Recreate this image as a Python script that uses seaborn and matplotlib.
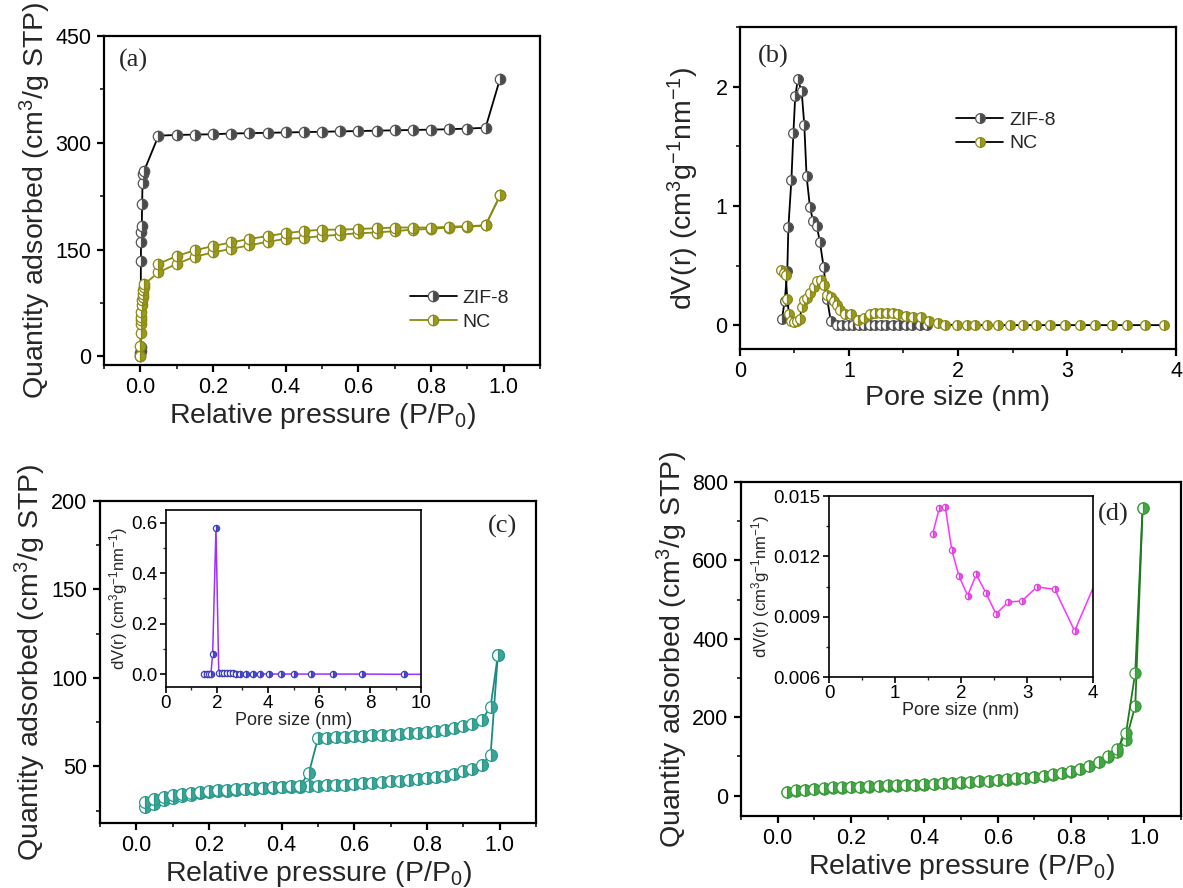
import numpy as np
import pandas as pd
import seaborn as sns
import matplotlib
matplotlib.use("Agg")
import matplotlib.pyplot as plt
from matplotlib.ticker import MultipleLocator

sns.set_style("ticks")
plt.rcParams['font.family'] = ['Liberation Sans', 'DejaVu Sans']
plt.rcParams['mathtext.default'] = 'regular'

# ---- (a) N2 isotherms ZIF-8 / NC ----
zif_p = [0.0001, 0.0002, 0.0005, 0.001, 0.0015, 0.002, 0.003, 0.004, 0.005, 0.006, 0.008, 0.01,
         0.05, 0.1, 0.15, 0.2, 0.25, 0.3, 0.35, 0.4, 0.45, 0.5, 0.55, 0.6, 0.65, 0.7, 0.75,
         0.8, 0.85, 0.9, 0.95, 0.99]
zif_q = [0, 5, 8, 13, 134, 161, 175, 183, 214, 244, 256, 260,
         310, 311, 311.5, 312, 313, 313.5, 314, 314.5, 315, 315.5, 316, 316.5, 317, 317.5, 318,
         318.5, 319, 320, 321, 390]
nc_ads_p = [0.0001, 0.0002, 0.0005, 0.001, 0.0015, 0.002, 0.003, 0.004, 0.005, 0.006, 0.007,
            0.008, 0.009, 0.01, 0.05, 0.1, 0.15, 0.2, 0.25, 0.3, 0.35, 0.4, 0.45, 0.5, 0.55,
            0.6, 0.65, 0.7, 0.75, 0.8, 0.85, 0.9, 0.95, 0.99]
nc_ads_q = [0, 15, 33, 46, 51, 55, 62, 72, 79, 83, 88, 93, 98, 101, 118, 130, 140, 146, 151,
            156, 161, 165, 166.5, 169, 171, 173, 174, 176, 178, 179, 181, 182, 184, 226]
nc_des_p = [0.99, 0.95, 0.9, 0.85, 0.8, 0.75, 0.7, 0.65, 0.6, 0.55, 0.5, 0.45, 0.4, 0.35, 0.3,
            0.25, 0.2, 0.15, 0.1, 0.05]
nc_des_q = [226, 184, 183, 182, 181, 181, 181, 180, 179, 178, 178, 176, 173, 169, 165, 160,
            155, 149, 141, 130]

# ---- (b) pore size distribution ----
zif_d = [0.385, 0.41, 0.434, 0.444, 0.472, 0.49, 0.507, 0.531, 0.566, 0.59, 0.611, 0.642,
         0.67, 0.705, 0.733, 0.767, 0.80, 0.833, 0.89, 0.94, 0.99, 1.04, 1.09, 1.14, 1.19,
         1.24, 1.29, 1.34, 1.40, 1.46, 1.52, 1.58, 1.65, 1.72]
zif_dv = [0.053, 0.2, 0.45, 0.82, 1.22, 1.61, 1.92, 2.06, 1.96, 1.68, 1.25, 0.99, 0.875, 0.83,
          0.70, 0.49, 0.22, 0.033, 0, 0, 0, 0, 0, 0, 0, 0, 0, 0, 0, 0, 0, 0, 0, 0]
nc_d = [0.375, 0.40, 0.42, 0.434, 0.45, 0.469, 0.497, 0.524, 0.549, 0.566, 0.59, 0.618, 0.646,
        0.677, 0.705, 0.74, 0.774, 0.80, 0.833, 0.86, 0.889, 0.92, 0.965, 1.017, 1.087, 1.14,
        1.19, 1.24, 1.295, 1.35, 1.40, 1.45, 1.52, 1.59, 1.66, 1.73, 1.82, 1.885, 1.99, 2.08,
        2.16, 2.27, 2.37, 2.48, 2.60, 2.72, 2.84, 2.98, 3.12, 3.26, 3.41, 3.55, 3.72, 3.89]
nc_dv = [0.46, 0.44, 0.42, 0.22, 0.09, 0.033, 0.025, 0.033, 0.053, 0.15, 0.21, 0.23, 0.27,
         0.32, 0.37, 0.38, 0.34, 0.25, 0.24, 0.20, 0.17, 0.13, 0.09, 0.09, 0.04, 0.06, 0.09,
         0.10, 0.10, 0.10, 0.10, 0.09, 0.075, 0.07, 0.07, 0.033, 0.02, 0.005, 0, 0, 0, 0, 0,
         0, 0, 0, 0, 0, 0, 0, 0, 0, 0, 0]

# ---- (c) and (d) isotherms ----
p_grid = [0.025, 0.05, 0.075, 0.1, 0.125, 0.15, 0.175, 0.2, 0.225, 0.25, 0.275, 0.3, 0.325,
          0.35, 0.375, 0.4, 0.425, 0.45, 0.475, 0.5, 0.525, 0.55, 0.575, 0.6, 0.625, 0.65,
          0.675, 0.7, 0.725, 0.75, 0.775, 0.8, 0.825, 0.85, 0.875, 0.9, 0.925, 0.95, 0.975, 0.995]
c_ads = [27, 29, 31, 32, 33.5, 34, 35, 35.6, 36, 36.3, 36.5, 37, 37.3, 37.5, 37.8, 38.2, 38.4,
         38.6, 38.8, 39, 39.2, 39.5, 39.7, 40, 40.4, 40.8, 41.2, 41.6, 42, 42.5, 43, 43.4, 44,
         44.8, 45.7, 47.2, 48.5, 51, 56.5, 113]
c_des = [30, 31.5, 32.8, 33.8, 34.6, 35.2, 35.7, 36.1, 36.4, 36.7, 37, 37.3, 37.6, 37.8, 38.1,
         38.4, 38.7, 38.9, 46.3, 66, 66.2, 66.5, 66.7, 66.9, 67.4, 67.6, 67.8, 68, 68.3, 68.7,
         69, 69.7, 70, 70.6, 71.5, 73, 74, 76, 83.7, 113]
d_ads = [8.5, 13, 14.5, 16, 18, 20, 20.5, 21, 22, 23, 24, 25, 25.7, 26.5, 27.2, 28, 29.5, 31,
         32, 33, 34.5, 36, 37.5, 39, 41, 43, 44.5, 47, 49.5, 53, 57, 61.5, 68, 75, 85.5, 98,
         111, 143, 229, 733]
d_des = [10, 14, 15.5, 17, 19, 21, 21.5, 22, 23, 24, 25, 26, 26.7, 27.5, 28.2, 29, 30.5, 32,
         33, 34, 35.5, 37, 38.5, 40, 42, 44, 45.5, 48, 50.5, 54, 58, 62.5, 69, 76, 87, 100,
         118, 161, 314, 733]

# ---- insets ----
ci_d = [1.5, 1.6, 1.67, 1.76, 1.83, 1.96, 2.07, 2.18, 2.29, 2.39, 2.51, 2.63, 2.76, 2.89, 3.14,
        3.4, 3.69, 4.05, 4.51, 5.03, 5.69, 6.55, 7.69, 9.35, 11.5]
ci_dv = [0, 0, 0, 0, 0.08, 0.578, 0.005, 0.005, 0.005, 0.004, 0.004, 0.004, 0.003, 0.003, 0.002,
         0.002, 0.002, 0.001, 0.001, 0.001, 0.001, 0.001, 0.001, 0.0, 0.0]
di_d = [1.57, 1.67, 1.76, 1.86, 1.97, 2.10, 2.23, 2.38, 2.53, 2.71, 2.92, 3.15, 3.42, 3.72, 4.1]
di_dv = [0.01313, 0.01439, 0.01447, 0.0123, 0.0110, 0.01005, 0.0111, 0.01016, 0.00913,
         0.00973, 0.00978, 0.01048, 0.01036, 0.00829, 0.0112]

fig = plt.figure(figsize=(11.83, 8.88), dpi=100)
ax_a = fig.add_axes([0.0879, 0.589, 0.3686, 0.3705])
ax_b = fig.add_axes([0.6255, 0.607, 0.3686, 0.3626])
ax_c = fig.add_axes([0.0845, 0.0732, 0.3686, 0.3626])
ax_d = fig.add_axes([0.6264, 0.0811, 0.372, 0.376])
ax_ci = fig.add_axes([0.1403, 0.2264, 0.2156, 0.1993])
ax_di = fig.add_axes([0.7008, 0.2376, 0.2232, 0.2038])

big_lab = 20.5


def curve(ax, x, y, line, face, edge, ms, lw=1.3, label=None):
    sns.lineplot(x=x, y=y, ax=ax, sort=False, estimator=None, color=line, lw=lw,
                 marker='o', markersize=ms, fillstyle='right', markerfacecolor=face,
                 markerfacecoloralt='white', markeredgecolor=edge, markeredgewidth=0.9,
                 label=label, legend=label is not None)


def style(ax, big=True):
    lw = 1.6 if big else 1.2
    for s in ax.spines.values():
        s.set_linewidth(lw)
        s.set_color('black')
    ax.tick_params(which='major', direction='out', length=5 if big else 4, width=lw,
                   labelsize=15.5 if big else 13.5, pad=4 if big else 2, colors='black')
    ax.tick_params(which='minor', direction='out', length=3 if big else 2.5, width=lw * 0.8)


zif_c, nc_c = '#4a4a4a', '#9a9a1e'
curve(ax_a, zif_p, zif_q, 'black', zif_c, '#555555', 7.5, label='ZIF-8')
curve(ax_a, nc_ads_p, nc_ads_q, '#8a8a14', nc_c, '#8a8a14', 7.5, label='NC')
curve(ax_a, nc_des_p, nc_des_q, '#8a8a14', nc_c, '#8a8a14', 7.5)
ax_a.set_xlim(-0.1, 1.1)
ax_a.set_ylim(-12, 450)
ax_a.xaxis.set_major_locator(MultipleLocator(0.2))
ax_a.xaxis.set_minor_locator(MultipleLocator(0.1))
ax_a.yaxis.set_major_locator(MultipleLocator(150))
ax_a.yaxis.set_minor_locator(MultipleLocator(75))
ax_a.xaxis.set_major_formatter(lambda v, p: f'{v:.1f}')
ax_a.set_xlabel('Relative pressure (P/P$_0$)', fontsize=big_lab, labelpad=2)
ax_a.set_ylabel('Quantity adsorbed (cm$^3$/g STP)', fontsize=big_lab, labelpad=2)
ax_a.legend(loc='center', bbox_to_anchor=(0.815, 0.167), frameon=False, fontsize=14,
            handlelength=2.4, handletextpad=0.3, labelspacing=0.3)
ax_a.text(0.035, 0.927, '(a)', transform=ax_a.transAxes, va='center', ha='left',
          family='Liberation Serif', fontsize=19)
style(ax_a)

curve(ax_b, zif_d, zif_dv, 'black', zif_c, '#555555', 7, label='ZIF-8')
curve(ax_b, nc_d, nc_dv, 'black', nc_c, '#8a8a14', 7, label='NC')
ax_b.set_xlim(0, 4)
ax_b.set_ylim(-0.2, 2.5)
ax_b.xaxis.set_major_locator(MultipleLocator(1))
ax_b.xaxis.set_minor_locator(MultipleLocator(0.5))
ax_b.yaxis.set_major_locator(MultipleLocator(1))
ax_b.yaxis.set_minor_locator(MultipleLocator(0.5))
ax_b.set_xlabel('Pore size (nm)', fontsize=big_lab, labelpad=2)
ax_b.set_ylabel('dV(r) (cm$^3$g$^{-1}$nm$^{-1}$)', fontsize=big_lab, labelpad=10)
ax_b.legend(loc='center', bbox_to_anchor=(0.61, 0.674), frameon=False, fontsize=14,
            handlelength=2.4, handletextpad=0.3, labelspacing=0.3)
ax_b.text(0.04, 0.907, '(b)', transform=ax_b.transAxes, va='center', ha='left',
          family='Liberation Serif', fontsize=19)
style(ax_b)

teal = '#3aa597'
curve(ax_c, p_grid, c_ads, '#1c8a80', teal, '#2a9a8c', 8.5)
curve(ax_c, p_grid[::-1], c_des[::-1], '#1c8a80', teal, '#2a9a8c', 8.5)
ax_c.set_xlim(-0.1, 1.1)
ax_c.set_ylim(18, 200)
ax_c.xaxis.set_major_locator(MultipleLocator(0.2))
ax_c.xaxis.set_minor_locator(MultipleLocator(0.1))
ax_c.yaxis.set_major_locator(MultipleLocator(50))
ax_c.yaxis.set_minor_locator(MultipleLocator(25))
ax_c.xaxis.set_major_formatter(lambda v, p: f'{v:.1f}')
ax_c.set_xlabel('Relative pressure (P/P$_0$)', fontsize=big_lab, labelpad=2)
ax_c.set_ylabel('Quantity adsorbed (cm$^3$/g STP)', fontsize=big_lab, labelpad=2)
ax_c.text(0.89, 0.92, '(c)', transform=ax_c.transAxes, va='center', ha='left',
          family='Liberation Serif', fontsize=19)
style(ax_c)

curve(ax_ci, ci_d, ci_dv, '#9b30ff', '#4b4bd0', '#4040c0', 4.5, lw=1.1)
ax_ci.set_xlim(0, 10)
ax_ci.set_ylim(-0.05, 0.65)
ax_ci.xaxis.set_major_locator(MultipleLocator(2))
ax_ci.xaxis.set_minor_locator(MultipleLocator(1))
ax_ci.yaxis.set_major_locator(MultipleLocator(0.2))
ax_ci.yaxis.set_minor_locator(MultipleLocator(0.1))
ax_ci.yaxis.set_major_formatter(lambda v, p: f'{v:.1f}')
ax_ci.set_xlabel('Pore size (nm)', fontsize=13, labelpad=0)
ax_ci.set_ylabel('dV(r) (cm$^3$g$^{-1}$nm$^{-1}$)', fontsize=12, labelpad=1)
style(ax_ci, big=False)

green = '#43a843'
curve(ax_d, p_grid, d_ads, '#1e7a1e', green, '#3a9a3a', 8)
curve(ax_d, p_grid[::-1], d_des[::-1], '#1e7a1e', green, '#3a9a3a', 8)
ax_d.set_xlim(-0.1, 1.1)
ax_d.set_ylim(-52, 800)
ax_d.xaxis.set_major_locator(MultipleLocator(0.2))
ax_d.xaxis.set_minor_locator(MultipleLocator(0.1))
ax_d.yaxis.set_major_locator(MultipleLocator(200))
ax_d.yaxis.set_minor_locator(MultipleLocator(100))
ax_d.xaxis.set_major_formatter(lambda v, p: f'{v:.1f}')
ax_d.set_xlabel('Relative pressure (P/P$_0$)', fontsize=big_lab, labelpad=2)
ax_d.set_ylabel('Quantity adsorbed (cm$^3$/g STP)', fontsize=big_lab, labelpad=2)
ax_d.text(0.81, 0.904, '(d)', transform=ax_d.transAxes, va='center', ha='left',
          family='Liberation Serif', fontsize=19)
style(ax_d)

curve(ax_di, di_d, di_dv, '#ff33ff', '#ee55ee', '#dd44dd', 4.5, lw=1.1)
ax_di.set_xlim(0, 4)
ax_di.set_ylim(0.006, 0.015)
ax_di.xaxis.set_major_locator(MultipleLocator(1))
ax_di.xaxis.set_minor_locator(MultipleLocator(0.5))
ax_di.yaxis.set_major_locator(MultipleLocator(0.003))
ax_di.yaxis.set_minor_locator(MultipleLocator(0.0015))
ax_di.yaxis.set_major_formatter(lambda v, p: f'{v:.3f}')
ax_di.set_xlabel('Pore size (nm)', fontsize=13, labelpad=0)
ax_di.set_ylabel('dV(r) (cm$^3$g$^{-1}$nm$^{-1}$)', fontsize=12, labelpad=1)
style(ax_di, big=False)

fig.savefig('out.png', dpi=100)
